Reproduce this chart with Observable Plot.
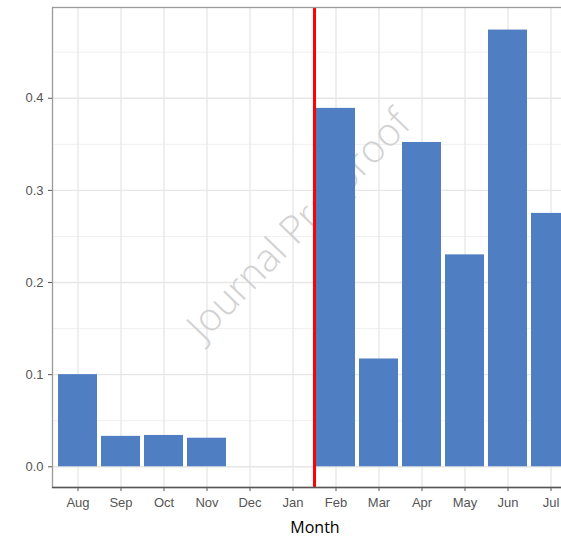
<!DOCTYPE html>
<html><head><meta charset="utf-8">
<script src="https://cdn.jsdelivr.net/npm/d3@7"></script>
<script src="https://cdn.jsdelivr.net/npm/@observablehq/plot@0.6"></script>
<style>html,body{margin:0;padding:0;overflow:hidden;background:#fff}</style>
</head><body><div id="chart"></div>
<script>
const months = ["Aug","Sep","Oct","Nov","Dec","Jan","Feb","Mar","Apr","May","Jun","Jul"];
const values = [0.100,0.033,0.034,0.031,0,0,0.389,0.117,0.352,0.230,0.474,0.275];
const yTicks = [0,0.1,0.2,0.3,0.4];
const yMinor = [0.05,0.15,0.25,0.35,0.45];
const breakAfter = "Jan";
const axisTitle = "Month";
const watermark = "Journal Pre-proof";

const data = months.map((m,i)=>({month:m, value:values[i]}));
const width = 577, marginLeft = 52, marginRight = 0;
const step = (width - marginLeft - marginRight) / 12.2;
const yDomain = [-0.0225, 0.4985];

const plot = Plot.plot({
  width, height: 538,
  marginLeft, marginRight, marginTop: 7, marginBottom: 51,
  style: {fontFamily: "Liberation Sans, Arial, sans-serif", fontSize: "13px", color: "#555", background: "#fff"},
  x: {domain: months, paddingInner: 0.093, paddingOuter: 0.1465, tickSize: 4, tickPadding: 6, label: null},
  y: {domain: yDomain, ticks: yTicks, tickFormat: ".1f", tickSize: 4, tickPadding: 5, label: null},
  marks: [
    Plot.ruleY(yMinor, {stroke: "#f0f0f0", strokeWidth: 1}),
    Plot.ruleY(yTicks, {stroke: "#e6e6e6", strokeWidth: 1.3}),
    Plot.ruleX(months, {stroke: "#e6e6e6", strokeWidth: 1.3}),
    Plot.text([watermark], {text: d => d, frameAnchor: "middle", rotate: -46, dx: -16, dy: -22,
      fill: "#d2d2d2", fontSize: 39, fontFamily: "Open Sans, sans-serif", fontWeight: 300}),
    Plot.barY(data, {x: "month", y: "value", fill: "#4F7EC3"}),
    Plot.ruleX([breakAfter], {dx: step / 2, stroke: "#ff0000", strokeWidth: 3}),
    Plot.frame({stroke: "#9a9a9a", strokeWidth: 1.3}),
    Plot.ruleY([yDomain[0]], {stroke: "#555", strokeWidth: 1.3}),
    Plot.text([axisTitle], {text: d => d, frameAnchor: "bottom", dy: 45, fill: "#000",
      fontSize: 16, fontFamily: "Open Sans, sans-serif"})
  ]
});
plot.style.maxWidth = "none";
plot.style.overflow = "hidden";
document.getElementById("chart").appendChild(plot);
</script></body></html>
